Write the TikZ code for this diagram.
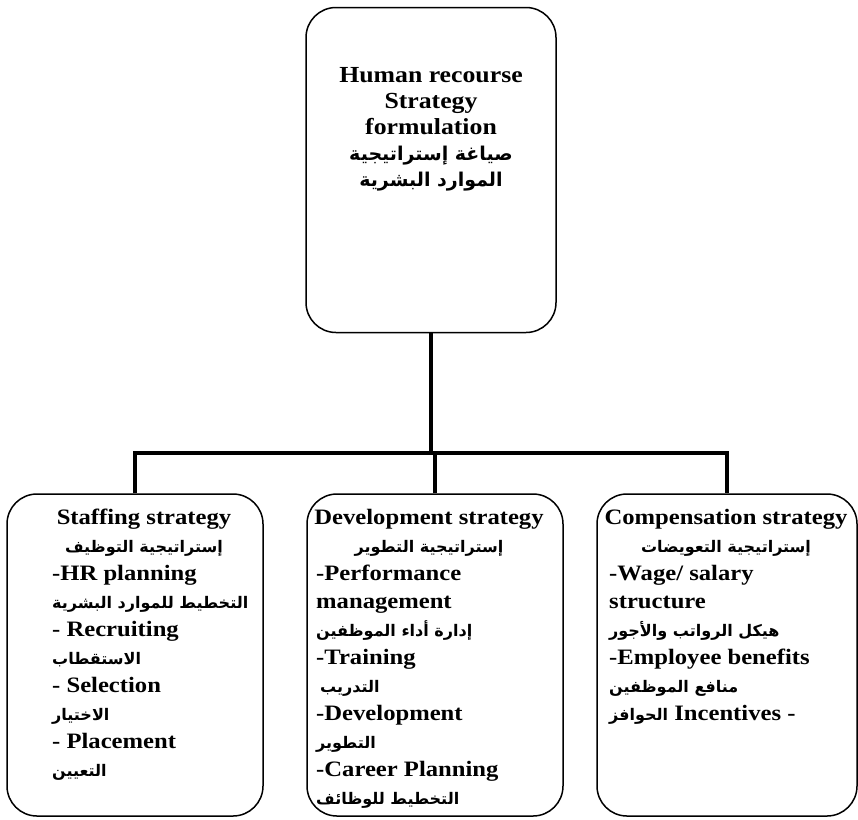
\documentclass[tikz,border=0pt]{standalone}
\usepackage{fontspec}
\setmainfont{Liberation Serif}[FakeStretch=1.12]
\newfontfamily\arabicfont[Script=Arabic]{DejaVu Sans}
\TeXXeTstate=1
\usetikzlibrary{positioning}
\tikzset{
  box/.style = {draw, line width=1.5pt, rounded corners=30pt},
  link/.style = {line width=4.5pt},
  title/.style = {font=\fontsize{22}{28}\selectfont\bfseries, align=center, inner sep=0pt, anchor=north},
  item/.style = {font=\fontsize{22}{28}\selectfont\bfseries, align=left, inner sep=0pt, anchor=north west}
}
\newcommand{\ar}[1]{{\arabicfont\bfseries\fontsize{16}{28}\selectfont\beginR #1\endR}}
\newcommand{\arbig}[1]{{\arabicfont\bfseries\fontsize{19}{26}\selectfont\beginR #1\endR}}

\begin{document}
\begin{tikzpicture}[x=1pt, y=-1pt]
\useasboundingbox (0,0) rectangle (858,819);
% boxes
\node[box, minimum width=250pt, minimum height=325pt] (hr) at (431,170) {};
\node[box, minimum width=256pt, minimum height=322pt] (staff) at (135,655) {};
\node[box, minimum width=256pt, minimum height=322pt] (dev) at (435,655) {};
\node[box, minimum width=260pt, minimum height=322pt] (comp) at (727,655) {};
% texts
\node[title, font=\fontsize{23}{26}\selectfont\bfseries] (hrtext) at (431,67) {Human recourse\\ Strategy\\ formulation\\ \arbig{صياغة إستراتيجية}\\ \arbig{الموارد البشرية}};
\node[title] (stafftitle) at (144,509) {Staffing strategy\\ \ar{إستراتيجية التوظيف}};
\node[title] (devtitle) at (429,509) {Development strategy\\ \ar{إستراتيجية التطوير}};
\node[title] (comptitle) at (726,509) {Compensation strategy\\ \ar{إستراتيجية التعويضات}};
\node[item] (staffitems) at (52,565) {-HR planning\\ \ar{التخطيط للموارد البشرية}\\ - Recruiting\\ \ar{الاستقطاب}\\ - Selection\\ \ar{الاختيار}\\ - Placement\\ \ar{التعيين}};
\node[item] (devitems) at (316,565) {-Performance\\ management\\ \ar{إدارة أداء الموظفين}\\ -Training\\ \hspace{4pt}\ar{التدريب}\\ -Development\\ \ar{التطوير}\\ -Career Planning\\ \ar{التخطيط للوظائف}};
\node[item] (compitems) at (609,565) {-Wage/ salary\\ structure\\ \ar{هيكل الرواتب والأجور}\\ -Employee benefits\\ \ar{منافع الموظفين}\\ \ar{الحوافز} Incentives -};
% edges
\coordinate (bar) at (433,453);
\draw[link] (hr.south) -- (hr.south |- bar);
\draw[link] (staff.north) |- (bar) -| (comp.north);
\draw[link] (dev.north) -- (dev.north |- bar);
\end{tikzpicture}
\end{document}
